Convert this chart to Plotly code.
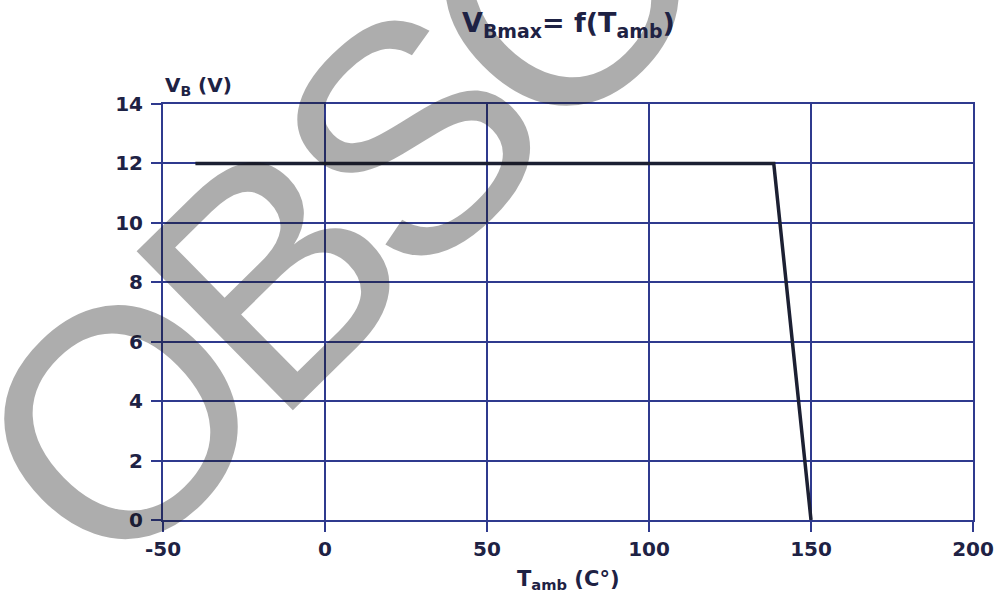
import plotly.graph_objects as go

# Data
t_amb = [-40, 138.5, 150]
vb_max = [12, 12, 0]

x_ticks = [-50, 0, 50, 100, 150, 200]
y_ticks = [0, 2, 4, 6, 8, 10, 12, 14]

GRID = "#2f3a8e"
LINE = "#1c2033"
TXT = "#1e2244"
FONT = "DejaVu Sans, Liberation Sans, sans-serif"
WM_FONT = "Liberation Sans, Arial, sans-serif"

L, R, T, B = 163, 28, 104, 83
W, H = 1006, 603
pw, ph = W - L - R, H - T - B


def px(xp):
    return (xp - L) / pw


def py(yp):
    return (H - B - yp) / ph


fig = go.Figure()
fig.add_trace(go.Scatter(x=t_amb, y=vb_max, mode="lines",
                         line=dict(color=LINE, width=3.5), hoverinfo="skip",
                         showlegend=False))

axis_common = dict(showgrid=True, gridcolor=GRID, gridwidth=2,
                   showline=True, linecolor=GRID, linewidth=2, mirror=True,
                   zeroline=False, ticks="outside", ticklen=10, tickwidth=2,
                   tickcolor=GRID,
                   tickfont=dict(family=FONT, size=20, color=TXT, weight="bold"))

fig.update_xaxes(range=[-50, 200], tickvals=x_ticks,
                 ticktext=[str(v) for v in x_ticks], **axis_common)
fig.update_yaxes(range=[0, 14], tickvals=y_ticks,
                 ticktext=[str(v) for v in y_ticks], ticklabelstandoff=4,
                 **axis_common)

annotations = [
    # watermark
    dict(text='<span style="letter-spacing:-22px">OBSOLETE</span>',
         xref="paper", yref="paper", x=px(597), y=py(-43),
         xanchor="center", yanchor="middle", showarrow=False, textangle=-44.5,
         font=dict(family=WM_FONT, size=324, color="rgba(20,20,20,0.35)")),
    # title
    dict(text="V<sub>Bmax</sub>= f(T<sub>amb</sub>)", xref="paper", yref="paper",
         x=px(571), y=py(25), xanchor="center", yanchor="middle", showarrow=False,
         font=dict(family=FONT, size=27, color=TXT, weight="bold")),
    # y label
    dict(text="V<sub>B</sub> (V)", xref="paper", yref="paper",
         x=px(163), y=py(86), xanchor="left", yanchor="middle", showarrow=False,
         font=dict(family=FONT, size=20, color=TXT, weight="bold")),
    # x label
    dict(text="T<sub>amb</sub> (C°)", xref="paper", yref="paper",
         x=px(570), y=py(580), xanchor="center", yanchor="middle", showarrow=False,
         font=dict(family=FONT, size=21, color=TXT, weight="bold")),
]

fig.update_layout(width=W, height=H, margin=dict(l=L, r=R, t=T, b=B),
                  paper_bgcolor="white", plot_bgcolor="white",
                  annotations=annotations, showlegend=False)

fig.write_html("out.html", config={"displayModeBar": False},
               post_script="document.body.style.margin='0';"
                           "document.body.style.overflow='hidden';")
